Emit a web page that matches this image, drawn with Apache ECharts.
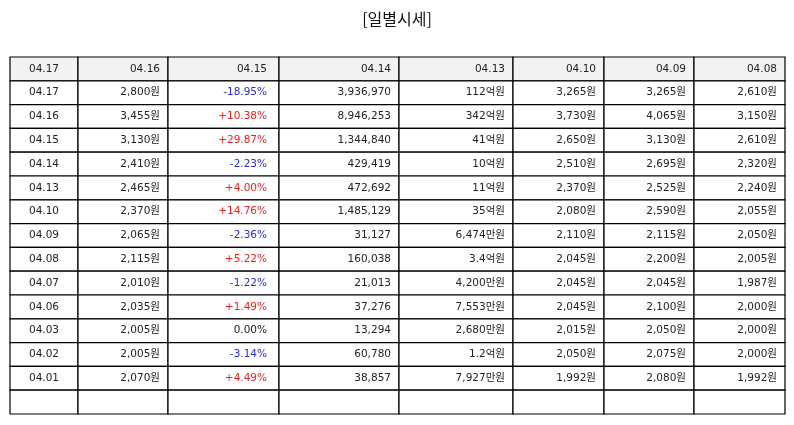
<!DOCTYPE html>
<html>
<head>
<meta charset="utf-8">
<script src="https://cdn.jsdelivr.net/npm/echarts@6/dist/echarts.min.js"></script>
<style>html,body{margin:0;padding:0;background:#fff}#c{width:794px;height:425px}</style>
</head>
<body>
<div id="c"></div>
<script>
// header row
const headers = ['04.17', '04.16', '04.15', '04.14', '04.13', '04.10', '04.09', '04.08']
// data columns
const dates = ['04.17', '04.16', '04.15', '04.14', '04.13', '04.10', '04.09', '04.08', '04.07', '04.06', '04.03', '04.02', '04.01']
const closes = ['2,800원', '3,455원', '3,130원', '2,410원', '2,465원', '2,370원', '2,065원', '2,115원', '2,010원', '2,035원', '2,005원', '2,005원', '2,070원']
const changes = ['-18.95%', '+10.38%', '+29.87%', '-2.23%', '+4.00%', '+14.76%', '-2.36%', '+5.22%', '-1.22%', '+1.49%', '0.00%', '-3.14%', '+4.49%']
const volumes = ['3,936,970', '8,946,253', '1,344,840', '429,419', '472,692', '1,485,129', '31,127', '160,038', '21,013', '37,276', '13,294', '60,780', '38,857']
const amounts = ['112억원', '342억원', '41억원', '10억원', '11억원', '35억원', '6,474만원', '3.4억원', '4,200만원', '7,553만원', '2,680만원', '1.2억원', '7,927만원']
const opens = ['3,265원', '3,730원', '2,650원', '2,510원', '2,370원', '2,080원', '2,110원', '2,045원', '2,045원', '2,045원', '2,015원', '2,050원', '1,992원']
const highs = ['3,265원', '4,065원', '3,130원', '2,695원', '2,525원', '2,590원', '2,115원', '2,200원', '2,045원', '2,100원', '2,050원', '2,075원', '2,080원']
const lows = ['2,610원', '3,150원', '2,610원', '2,320원', '2,240원', '2,055원', '2,050원', '2,005원', '1,987원', '2,000원', '2,000원', '2,000원', '1,992원']

// layout: column left edges in pixel units of the table
const colEdges = [0, 68, 158, 269, 389, 503, 594, 684, 775]
const totalRows = dates.length + 2

const columns = [dates, closes, changes, volumes, amounts, opens, highs, lows]
const cells = []
headers.forEach((h, c) => cells.push([c, 0, h, 'head']))
dates.forEach((d, r) => {
  columns.forEach((col, c) => {
    let kind = 'body'
    if (c === 2) {
      const v = col[r]
      kind = v[0] === '+' ? 'up' : v[0] === '-' ? 'down' : 'body'
    }
    cells.push([c, r + 1, col[r], kind])
  })
})
for (let c = 0; c < headers.length; c++) cells.push([c, totalRows - 1, '', 'body'])

const colors = { up: '#e8231f', down: '#2b2bd8', body: '#222', head: '#222' }
const font = '"DejaVu Sans", "Noto Sans CJK KR", sans-serif'

const chart = echarts.init(document.getElementById('c'))
chart.setOption({
  title: {
    text: '[일별시세]', left: 'center', top: 6,
    textStyle: { fontFamily: 'Noto Sans CJK KR', fontSize: 16, fontWeight: 'normal', color: '#111' }
  },
  grid: { left: 10, right: 9, top: 57, bottom: 11 },
  xAxis: { type: 'value', min: 0, max: 775, show: false },
  yAxis: { type: 'value', min: 0, max: totalRows, inverse: true, show: false },
  series: [{
    type: 'custom',
    data: cells,
    renderItem: (params, api) => {
      const c = api.value(0), r = api.value(1)
      const p0 = api.coord([colEdges[c], r])
      const p1 = api.coord([colEdges[c + 1], r + 1])
      const kind = cells[params.dataIndex][3]
      const text = cells[params.dataIndex][2]
      const center = c === 0
      return {
        type: 'group',
        children: [
          {
            type: 'rect',
            shape: { x: p0[0], y: p0[1], width: p1[0] - p0[0], height: p1[1] - p0[1] },
            style: { fill: kind === 'head' ? '#f2f2f2' : '#fff', stroke: '#000', lineWidth: 1.2 }
          },
          {
            type: 'text',
            x: center ? (p0[0] + p1[0]) / 2 : p1[0] - (c === 2 ? 12 : 8),
            y: (p0[1] + p1[1]) / 2,
            style: {
              text, fill: colors[kind], align: center ? 'center' : 'right', verticalAlign: 'middle',
              fontFamily: font, fontSize: 10.5
            }
          }
        ]
      }
    }
  }]
})
</script>
</body>
</html>
